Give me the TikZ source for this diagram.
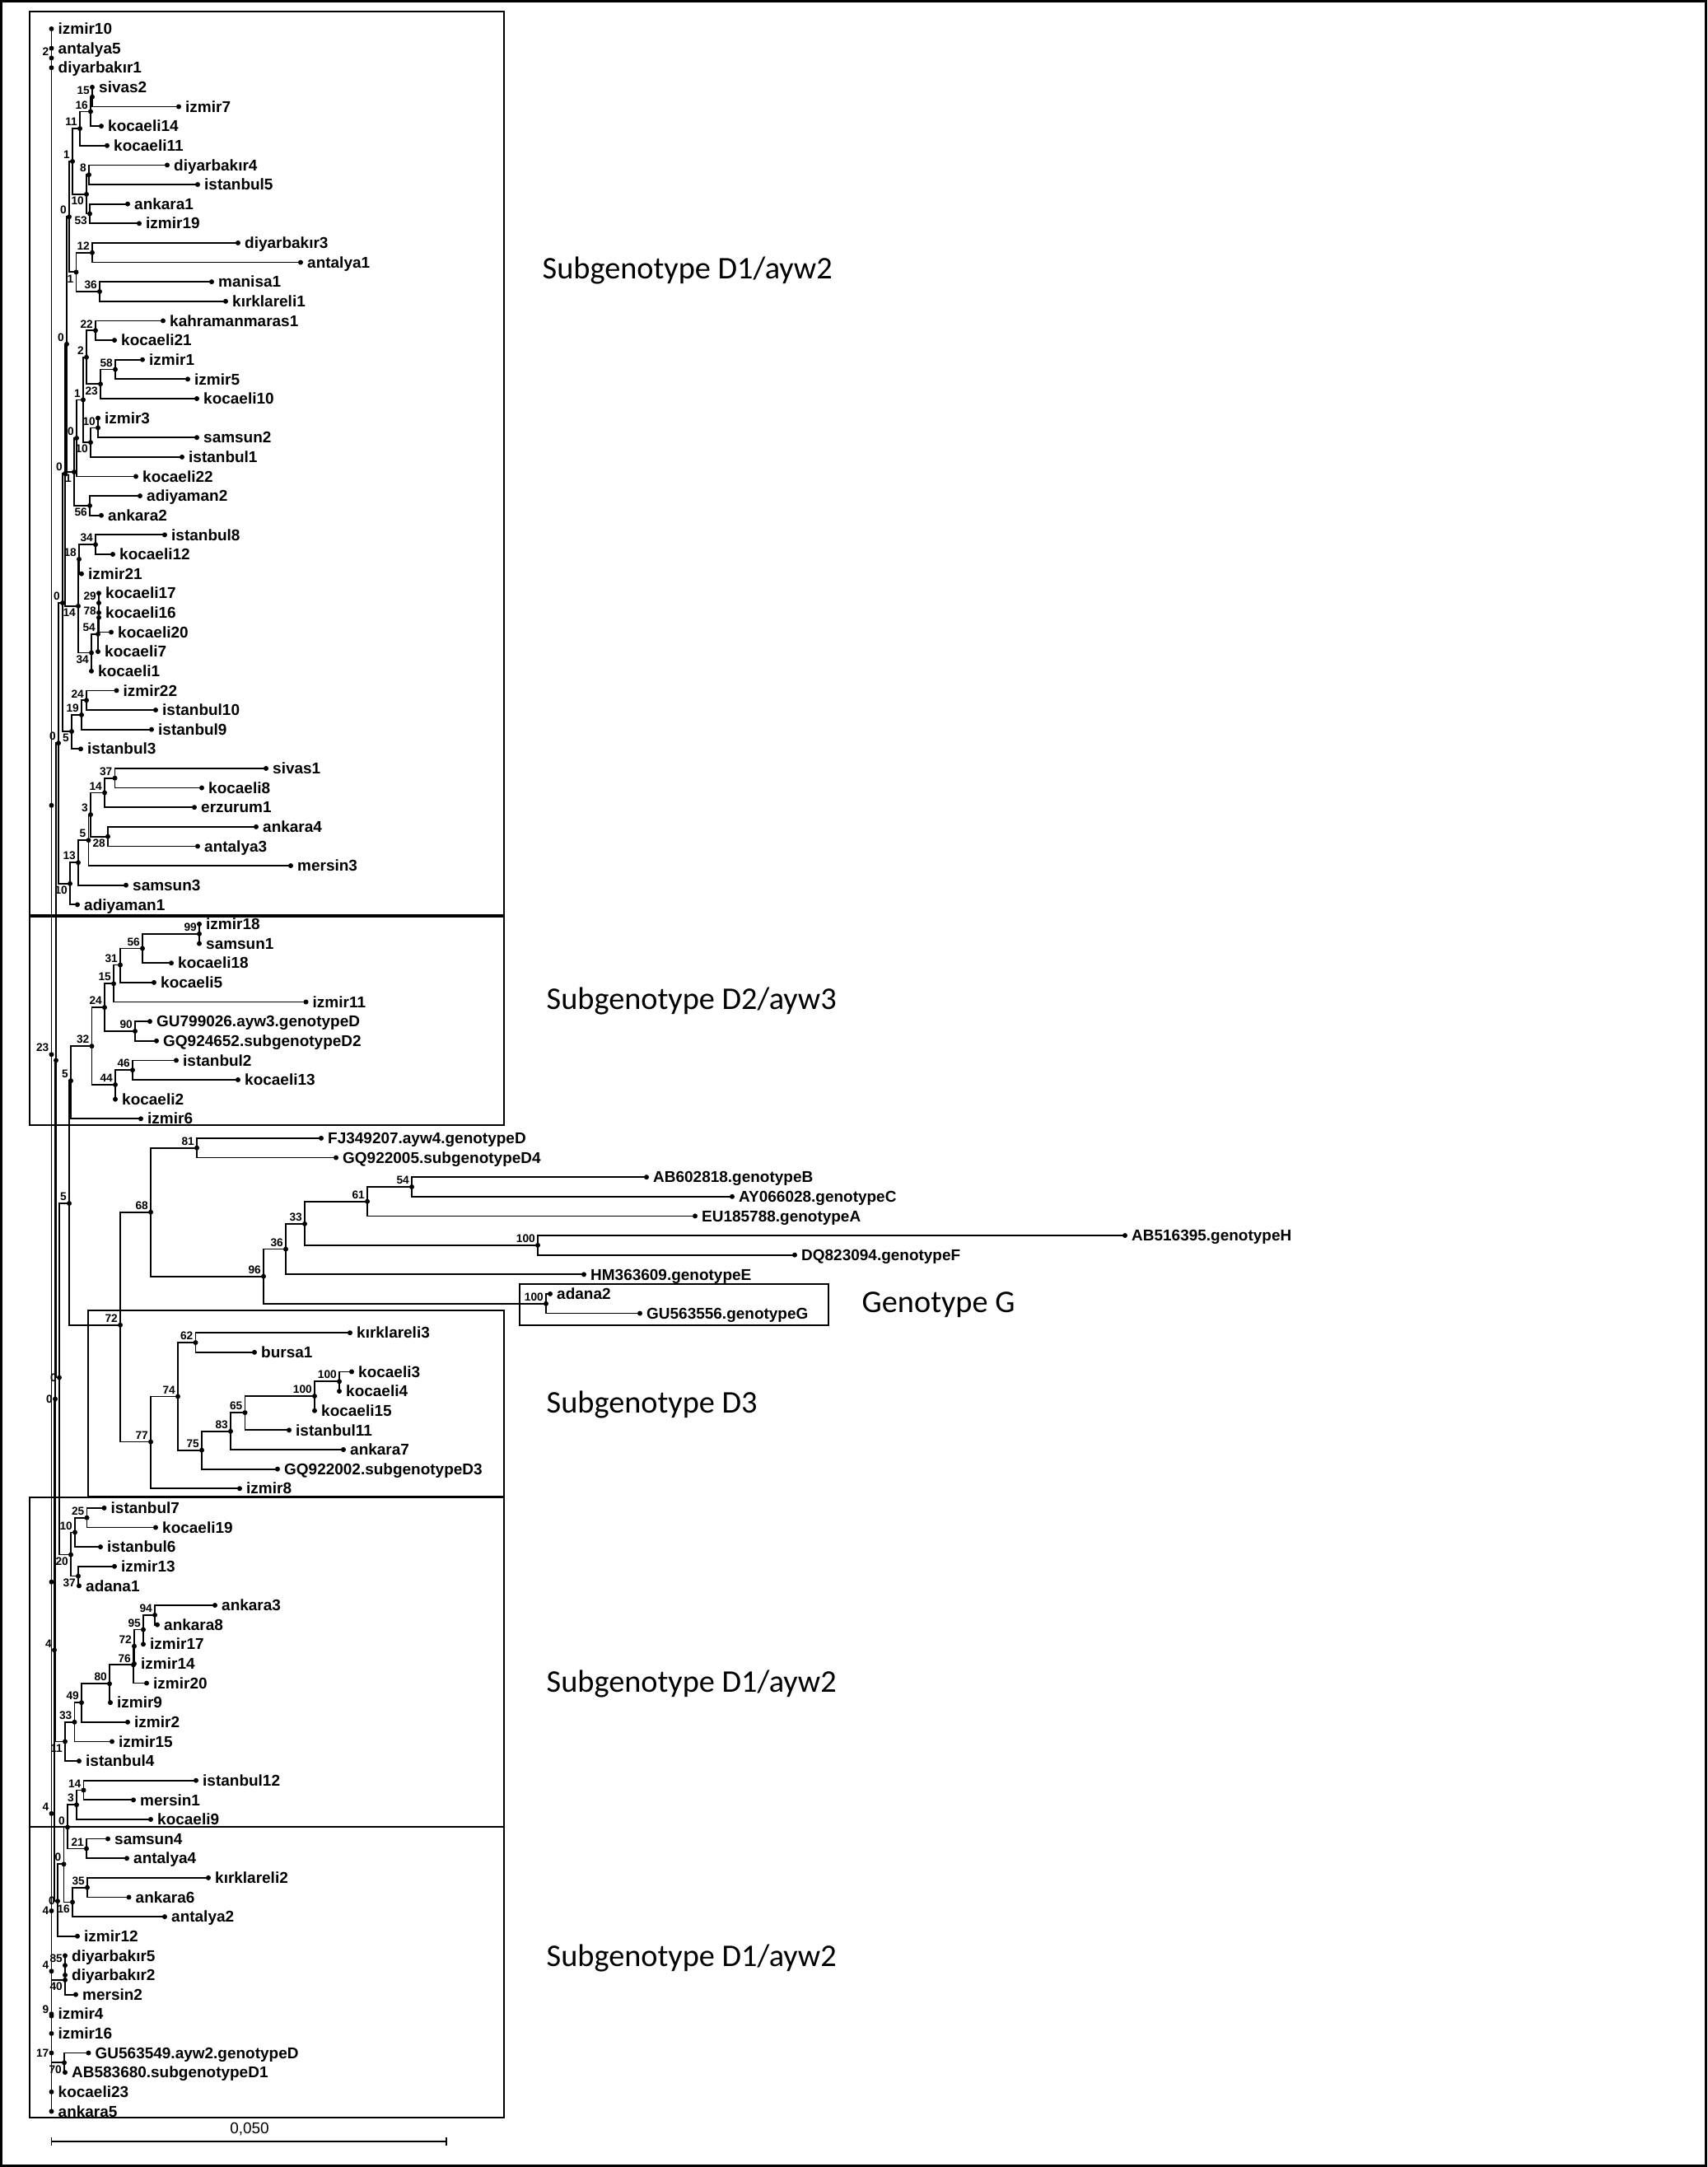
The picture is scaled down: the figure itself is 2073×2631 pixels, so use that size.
\documentclass[tikz,border=0pt]{standalone}
\usepackage{fontspec}
\setmainfont{Liberation Sans}
\newfontfamily\cladefont{Carlito}
\usepackage{tikz}
\tikzset{
  br/.style={draw=black, line width=0.5pt},
  frame/.style={draw=black, line width=0.75pt},
  dot/.style={fill=black},
  leaflab/.style={font=\fontsize{5.4}{6}\selectfont\bfseries, inner sep=0pt, anchor=base west},
  boot/.style={font=\fontsize{3.9}{4}\selectfont\bfseries, inner sep=0.25mm},
  clade/.style={font=\cladefont\fontsize{10.9}{12}\selectfont, inner sep=0pt, anchor=base west},
  barlab/.style={font=\fontsize{5.4}{6}\selectfont, inner sep=0pt, anchor=base},
}
\begin{document}
\begin{tikzpicture}[x=0.1mm, y=-0.1mm]
  \useasboundingbox (0,0) rectangle (2073,2631);
  \draw[line width=0.9pt] (1.5,1.5) rectangle (2071.5,2629.5);

  % clade boxes
  \draw[frame] (36,14) rectangle (612,1111);
  \draw[frame] (36,1113) rectangle (612,1366);
  \draw[frame] (631,1559) rectangle (1006,1609);
  \draw[frame] (107,1591) rectangle (612,1817);
  \draw[frame] (36,1818) rectangle (612,2218);
  \draw[frame] (36,2218) rectangle (612,2571);

  \node[clade] (cD1a) at (658,339) {Subgenotype D1/ayw2};
  \node[clade] (cD2)  at (663,1225) {Subgenotype D2/ayw3};
  \node[clade] (cG)   at (1046,1593) {Genotype G};
  \node[clade] (cD3)  at (663,1715) {Subgenotype D3};
  \node[clade] (cD1b) at (663,2054) {Subgenotype D1/ayw2};
  \node[clade] (cD1c) at (663,2387) {Subgenotype D1/ayw2};

  % scale bar
  \coordinate (sbL) at (62.5,2600);
  \coordinate (sbR) at (542,2600);
  \draw[br] (sbL) -- (sbR);
  \draw[br] ([yshift=0.5mm]sbL) -- ([yshift=-0.5mm]sbL);
  \draw[br] ([yshift=0.5mm]sbR) -- ([yshift=-0.5mm]sbR);
  \node[barlab] (sbT) at (303,2590) {0,050};

  \begin{scope}[y=-2.363mm, yshift=-3.5mm]
  % leaves: row / x / name
  \foreach \rw/\x/\nm in {
    0/62.5/izmir10, 1/62.5/antalya5, 2/62.5/diyarbakır1, 3/112/sivas2,
    4/217/izmir7, 5/123/kocaeli14, 6/130/kocaeli11, 7/203/diyarbakır4,
    8/240/istanbul5, 9/155/ankara1, 10/169/izmir19, 11/289/diyarbakır3,
    12/365/antalya1, 13/257/manisa1, 14/274/kırklareli1, 15/198/kahramanmaras1,
    16/139/kocaeli21, 17/173/izmir1, 18/228/izmir5, 19/239/kocaeli10,
    20/119/izmir3, 21/239/samsun2, 22/221/istanbul1, 23/165/kocaeli22,
    24/170/adiyaman2, 25/123/ankara2, 26/200/istanbul8, 27/137/kocaeli12,
    28/99/izmir21, 29/120/kocaeli17, 30/120/kocaeli16, 31/135/kocaeli20,
    32/119/kocaeli7, 33/111/kocaeli1, 34/141.5/izmir22, 35/189/istanbul10,
    36/184/istanbul9, 37/98/istanbul3, 38/323/sivas1, 39/245/kocaeli8,
    40/236/erzurum1, 41/311/ankara4, 42/240/antalya3, 43/353/mersin3,
    44/153/samsun3, 45/94/adiyaman1, 46/242/izmir18, 47/242/samsun1,
    48/208/kocaeli18, 49/187/kocaeli5, 50/371.5/izmir11, 51/182/GU799026.ayw3.genotypeD,
    52/190/GQ924652.subgenotypeD2, 53/214/istanbul2, 54/289/kocaeli13, 55/140/kocaeli2,
    56/171/izmir6, 57/390/FJ349207.ayw4.genotypeD, 58/408/GQ922005.subgenotypeD4, 59/785/AB602818.genotypeB,
    60/889/AY066028.genotypeC, 61/844/EU185788.genotypeA, 62/1366/AB516395.genotypeH, 63/965/DQ823094.genotypeF,
    64/709/HM363609.genotypeE, 65/668/adana2, 66/777/GU563556.genotypeG, 67/425/kırklareli3,
    68/309/bursa1, 69/427/kocaeli3, 70/412/kocaeli4, 71/382/kocaeli15,
    72/351/istanbul11, 73/417/ankara7, 74/337/GQ922002.subgenotypeD3, 75/291/izmir8,
    76/126.5/istanbul7, 77/189/kocaeli19, 78/122/istanbul6, 79/139/izmir13,
    80/96/adana1, 81/261/ankara3, 82/191/ankara8, 83/174/izmir17,
    84/163/izmir14, 85/178/izmir20, 86/134/izmir9, 87/155/izmir2,
    88/136/izmir15, 89/96/istanbul4, 90/238/istanbul12, 91/162/mersin1,
    92/183/kocaeli9, 93/131/samsun4, 94/154/antalya4, 95/253/kırklareli2,
    96/156.5/ankara6, 97/200/antalya2, 98/94/izmir12, 99/79/diyarbakır5,
    100/79/diyarbakır2, 101/92/mersin2, 102/62.5/izmir4, 103/62.5/izmir16,
    104/107.5/GU563549.ayw2.genotypeD, 105/79/AB583680.subgenotypeD1, 106/62.5/kocaeli23, 107/62.5/ankara5}
  {
    \coordinate (l\rw) at (\x,\rw);
    \node[leaflab] (t\rw) at ([xshift=0.75mm, yshift=-1.9pt]l\rw) {\nm};
  }

  % internal nodes: name / x / row
  \foreach \n/\x/\rw in {
    n2/62.5/1.5, n15/112/3.5, n16/110/4.25, n11a/97/5.125, n8/108/7.5,
    n53/109/9.5, n10a/105/8.5, n1a/88/6.81, n12/112/11.5, n36a/121/13.5,
    n1b/92.5/12.5, n0a/84/9.66, n22/116/15.5, n58/140/17.5, n23a/122/18.25,
    n2b/105/16.875, n10b/119/20.5, n10c/110/21.25, n1c/101/19.06, n0c/93/21.03,
    n56a/109/24.5, n1d/90/22.77, n0b/81/16.2, n34a/116/26.5, n18/96/27.25,
    n29/120/29.5, n78/120/30.25, n54a/119/31.1, n34b/111/32.06, n14a/95/29.66,
    n0h/79/22.85, n24a/105/34.5, n19/99/35.25, n5a/87/36.1, n0e/76/29.5,
    n37a/139.5/38.5, n14b/127/39.25, n28/131/41.5, n3a/110/40.375, n5c/107.5/41.69,
    n13/95/42.84, n10d/85/43.92, n0j/71/36.7,
    n99/242/46.5, n56b/173/47.25, n31/146/48.1, n15b/138/49.06, n90/164/51.5,
    n24b/127/50.28, n46/161/53.5, n44/140/54.25, n32/111.5/52.27, n5d/86/54.05,
    n81/239/57.5, n54b/500/59.5, n61/446/60.25, n100a/653/62.5, n33c/370/61.4,
    n36b/347/62.7, n100b/663/65.5, n96/320/64.1, n68/183/60.8,
    n62/237.5/67.5, n100c/412/69.5, n100d/382/70.25, n65/297.5/71.1, n83/280/72.06,
    n75/245/73.03, n74/216/70.27, n77/183/72.6, n72/146/66.6, n5e/84/60.35,
    n25/105.5/76.5, n10e/91/77.25, n37b/95/79.5, n20/86/78.4, n0f/72/69.3,
    nP/68/53.0, n0g/67/70.4,
    n94/188/81.5, n95/174/82.25, n72b/163/83.1, n76/162/84.06, n80/133/85.03,
    n49/99/86.0, n33b/90.5/87.0, n11b/79/88.0, n4a/66/83.3,
    n14c/101.5/90.5, n3b/93/91.25, n21/105/93.5, n0k/82/92.4, n35/106/95.5,
    n16b/88/96.25, n0l/77.5/94.3, n0m/70/96.2,
    n85/79/99.5, n40/79/100.25, n70/78/104.5,
    rA/62.5/39.9, r23/62.5/52.7, rB/62.5/79.8, r4a/62.5/91.7, r4b/62.5/96.7,
    r4c/62.5/99.8, r9/62.5/102.1, r17/62.5/104.0}
    \coordinate (\n) at (\x,\rw);

  % branches
  \draw[br] (l0) -- (l107);
  \foreach \p/\c in {
    n2/l1, n2/l2, n15/l3, n15/l4, n16/n15, n16/l5, n11a/n16, n11a/l6,
    n8/l7, n8/l8, n53/l9, n53/l10, n10a/n8, n10a/n53, n1a/n11a, n1a/n10a,
    n12/l11, n12/l12, n36a/l13, n36a/l14, n1b/n12, n1b/n36a, n0a/n1a, n0a/n1b,
    n22/l15, n22/l16, n58/l17, n58/l18, n23a/n58, n23a/l19, n2b/n22, n2b/n23a,
    n10b/l20, n10b/l21, n10c/n10b, n10c/l22, n1c/n2b, n1c/n10c, n0c/n1c, n0c/l23,
    n56a/l24, n56a/l25, n1d/n0c, n1d/n56a, n0b/n0a, n0b/n1d,
    n34a/l26, n34a/l27, n18/n34a, n18/l28, n29/l29, n29/l30, n78/n29, n78/l31,
    n54a/n78, n54a/l32, n34b/n54a, n34b/l33, n14a/n18, n14a/n34b, n0h/n0b, n0h/n14a,
    n24a/l34, n24a/l35, n19/n24a, n19/l36, n5a/n19, n5a/l37, n0e/n0h, n0e/n5a,
    n37a/l38, n37a/l39, n14b/n37a, n14b/l40, n28/l41, n28/l42, n3a/n14b, n3a/n28,
    n5c/n3a, n5c/l43, n13/n5c, n13/l44, n10d/n13, n10d/l45, n0j/n0e, n0j/n10d,
    n99/l46, n99/l47, n56b/n99, n56b/l48, n31/n56b, n31/l49, n15b/n31, n15b/l50,
    n90/l51, n90/l52, n24b/n15b, n24b/n90, n46/l53, n46/l54, n44/n46, n44/l55,
    n32/n24b, n32/n44, n5d/n32, n5d/l56,
    n81/l57, n81/l58, n54b/l59, n54b/l60, n61/n54b, n61/l61, n100a/l62, n100a/l63,
    n33c/n61, n33c/n100a, n36b/n33c, n36b/l64, n100b/l65, n100b/l66,
    n96/n36b, n96/n100b, n68/n81, n68/n96,
    n62/l67, n62/l68, n100c/l69, n100c/l70, n100d/n100c, n100d/l71, n65/n100d, n65/l72,
    n83/n65, n83/l73, n75/n83, n75/l74, n74/n62, n74/n75, n77/n74, n77/l75,
    n72/n68, n72/n77, n5e/n5d, n5e/n72,
    n25/l76, n25/l77, n10e/n25, n10e/l78, n37b/l79, n37b/l80, n20/n10e, n20/n37b,
    n0f/n5e, n0f/n20, nP/n0j, nP/n0f,
    n94/l81, n94/l82, n95/n94, n95/l83, n72b/n95, n72b/l84, n76/n72b, n76/l85,
    n80/n76, n80/l86, n49/n80, n49/l87, n33b/n49, n33b/l88, n11b/n33b, n11b/l89,
    n0g/nP, n0g/n11b, n4a/n0g, n4a/n0m,
    n14c/l90, n14c/l91, n3b/n14c, n3b/l92, n21/l93, n21/l94, n0k/n3b, n0k/n21,
    n35/l95, n35/l96, n16b/n35, n16b/l97, n0l/n0k, n0l/n16b, n0m/n0l, n0m/l98,
    n85/l99, n85/l100, n40/n85, n40/l101, n70/l104, n70/l105,
    rB/n4a, r4c/n40, r17/n70}
    \draw[br] (\p) |- (\c);

  % dots
  \foreach \rw in {0,...,107}
    \fill[dot] (l\rw) circle (0.3mm);
  \foreach \n in {n2, n15, n16, n11a, n8, n53, n10a, n1a, n12, n36a, n1b, n0a,
    n22, n58, n23a, n2b, n10b, n10c, n1c, n0c, n56a, n1d, n0b, n34a, n18, n29,
    n78, n54a, n34b, n14a, n0h, n24a, n19, n5a, n0e, n37a, n14b, n28, n3a, n5c,
    n13, n10d, n0j, n99, n56b, n31, n15b, n90, n24b, n46, n44, n32, n5d, n81,
    n54b, n61, n100a, n33c, n36b, n100b, n96, n68, n62, n100c, n100d, n65, n83,
    n75, n74, n77, n72, n5e, n25, n10e, n37b, n20, n0f, nP, n0g, n94, n95, n72b,
    n76, n80, n49, n33b, n11b, n4a, n14c, n3b, n21, n0k, n35, n16b, n0l, n0m,
    n85, n40, n70, rA, r23, rB, r4a, r4b, r4c, r9, r17}
    \fill[dot] (\n) circle (0.3mm);

  % bootstrap values
  \foreach \n/\v/\a in {
    n2/2/south east, n15/15/south east, n16/16/south east, n11a/11/south east,
    n8/8/south east, n53/53/north east, n10a/10/north east, n1a/1/south east,
    n12/12/south east, n36a/36/south east, n1b/1/north east, n0a/0/south east,
    n22/22/south east, n58/58/south east, n23a/23/north east, n2b/2/south east,
    n10b/10/south east, n10c/10/north east, n1c/1/south east, n0c/0/south east,
    n56a/56/north east, n1d/1/north east, n0b/0/south east, n34a/34/south east,
    n18/18/south east, n29/29/south east, n78/78/south east, n54a/54/south east,
    n34b/34/north east, n14a/14/north east, n0h/0/south east, n24a/24/south east,
    n19/19/south east, n5a/5/north east, n0e/0/south east, n37a/37/south east,
    n14b/14/south east, n28/28/north east, n3a/3/south east, n5c/5/south east,
    n13/13/south east, n10d/10/north east, n0j/0/south east,
    n99/99/south east, n56b/56/south east, n31/31/south east, n15b/15/south east,
    n90/90/south east, n24b/24/south east, n46/46/south east, n44/44/south east,
    n32/32/south east, n5d/5/south east,
    n81/81/south east, n54b/54/south east, n61/61/south east, n100a/100/south east,
    n33c/33/south east, n36b/36/south east, n100b/100/south east, n96/96/south east,
    n68/68/south east,
    n62/62/south east, n100c/100/south east, n100d/100/south east, n65/65/south east,
    n83/83/south east, n75/75/south east, n74/74/south east, n77/77/south east,
    n72/72/south east, n5e/5/south east,
    n25/25/south east, n10e/10/south east, n37b/37/north east, n20/20/north east,
    n0f/0/east, n0g/0/east,
    n94/94/south east, n95/95/south east, n72b/72/south east, n76/76/south east,
    n80/80/south east, n49/49/south east, n33b/33/south east, n11b/11/north east,
    n4a/4/south east,
    n14c/14/south east, n3b/3/south east, n21/21/south east, n0k/0/south east,
    n35/35/south east, n16b/16/north east, n0l/0/south east, n0m/0/east,
    n85/85/south east, n40/40/north east, n70/70/north east,
    r23/23/south east, r4a/4/south east, r4b/4/east, r4c/4/south east,
    r9/9/south east, r17/17/east}
    \node[boot, anchor=\a] at (\n) {\v};
  \end{scope}
\end{tikzpicture}
\end{document}
